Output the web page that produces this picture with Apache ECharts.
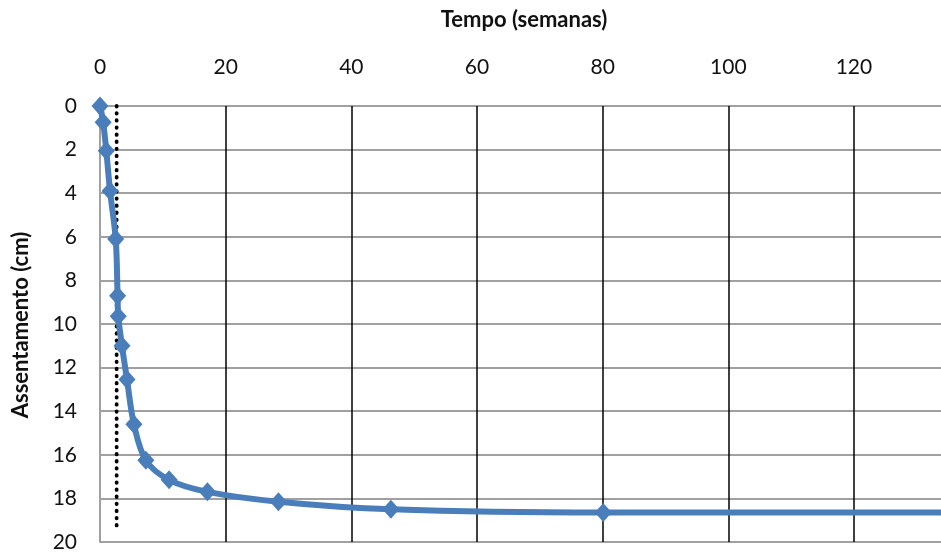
<!DOCTYPE html>
<html>
<head>
<meta charset="utf-8">
<script src="https://cdn.jsdelivr.net/npm/echarts@6/dist/echarts.min.js"></script>
<style>
  html, body { margin: 0; padding: 0; background: #ffffff; }
  #chart { width: 941px; height: 554px; }
</style>
</head>
<body>
<div id="chart"></div>
<script>
// Settlement curve: time in weeks (x, on top) against settlement in cm (y, downward)
const tempo = [0, 0.5, 1.0, 1.6, 2.5, 2.8, 2.9, 3.5, 4.3, 5.4, 7.3, 11.0, 17.1, 28.4, 46.3, 80.1, 135];
const assentamento = [0, 0.75, 2.05, 3.9, 6.1, 8.7, 9.65, 11.0, 12.55, 14.6, 16.25, 17.15, 17.7, 18.15, 18.5, 18.65, 18.65];

// Dotted reference line
const refTempo = [2.65, 2.65];
const refAssentamento = [0, 19.5];

const xTicks = { min: 0, max: 140, interval: 20 };
const yTicks = { min: 0, max: 20, interval: 2 };

const xTitle = 'Tempo (semanas)';
const yTitle = 'Assentamento (cm)';

const FONT = 'Lato';

const chart = echarts.init(document.getElementById('chart'), null, { renderer: 'canvas' });

chart.setOption({
  animation: false,
  backgroundColor: '#ffffff',
  grid: {
    left: 100, top: 106, width: 879.6, height: 436,
    containLabel: false,
    outerBoundsMode: 'none'
  },
  xAxis: {
    type: 'value',
    position: 'top',
    min: xTicks.min,
    max: xTicks.max,
    interval: xTicks.interval,
    axisLine: { show: false },
    axisTick: { show: false },
    axisLabel: { margin: 28, color: '#111111', fontFamily: FONT, fontSize: 21 },
    splitLine: { show: true, showMinLine: false, lineStyle: { color: '#000000', width: 1.5 } }
  },
  yAxis: {
    type: 'value',
    inverse: true,
    min: yTicks.min,
    max: yTicks.max,
    interval: yTicks.interval,
    axisLine: { show: true, onZero: false, lineStyle: { color: '#a0a0a0', width: 2 } },
    axisTick: { show: false },
    axisLabel: { margin: 23, color: '#111111', fontFamily: FONT, fontSize: 21 },
    splitLine: { show: true, lineStyle: { color: '#a0a0a0', width: 2 } }
  },
  graphic: [
    {
      type: 'text',
      x: 524, y: 20,
      style: { text: xTitle, font: 'bold 22px ' + FONT, fill: '#111111', align: 'center', verticalAlign: 'middle' }
    },
    {
      type: 'text',
      x: 21, y: 325,
      rotation: Math.PI / 2,
      style: { text: yTitle, font: 'bold 22px ' + FONT, fill: '#111111', align: 'center', verticalAlign: 'middle' }
    }
  ],
  series: [
    {
      type: 'line',
      data: refTempo.map((t, i) => [t, refAssentamento[i]]),
      showSymbol: false,
      symbol: 'none',
      lineStyle: { color: '#000000', width: 3.8, type: [0.5, 6.6], cap: 'round' },
      z: 3,
      silent: true
    },
    {
      type: 'line',
      data: tempo.map((t, i) => [t, assentamento[i]]),
      smooth: 0.35,
      symbol: 'diamond',
      symbolSize: [17, 19],
      showAllSymbol: true,
      itemStyle: { color: '#4a7ebb' },
      lineStyle: { color: '#4a7ebb', width: 6 },
      clip: false,
      z: 4
    }
  ]
});
</script>
</body>
</html>
